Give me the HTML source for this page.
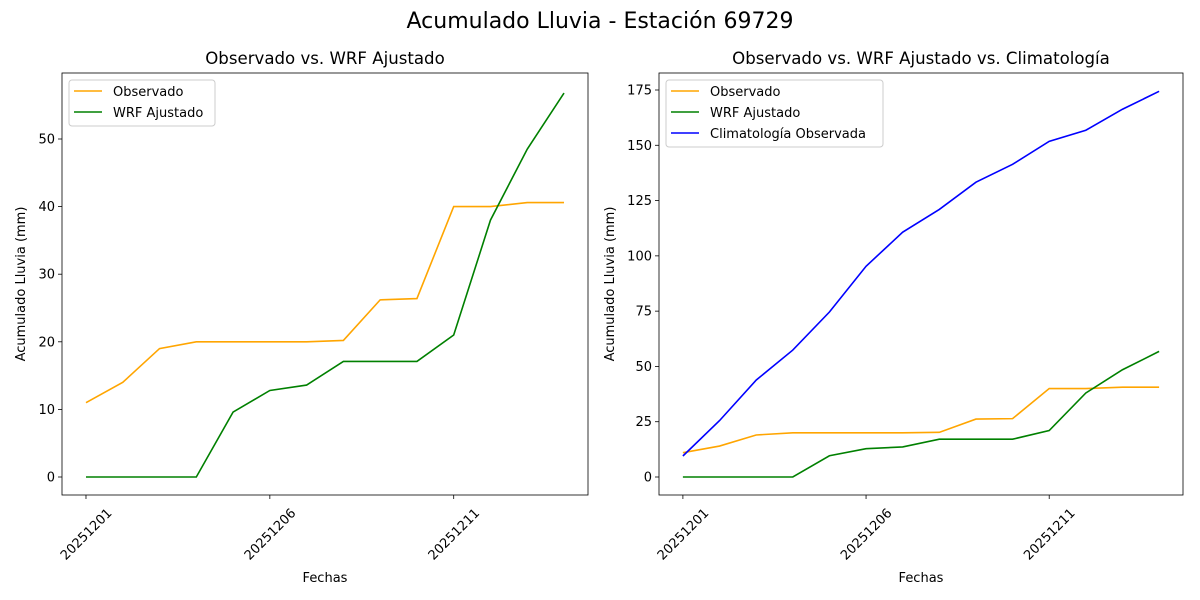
<!DOCTYPE html>
<html><head><meta charset="utf-8"><style>
body{margin:0;background:#fff;}
svg{display:block;font-family:"DejaVu Sans","Liberation Sans",sans-serif;}
</style></head><body>
<svg id="fig" width="1200" height="600" viewBox="0 0 1200 600">
<rect width="1200" height="600" fill="#fff"/>
<text x="600" y="28" font-size="22" text-anchor="middle">Acumulado Lluvia - Estación 69729</text>
</svg>
<script>
const dates = ["20251201","20251202","20251203","20251204","20251205","20251206","20251207","20251208","20251209","20251210","20251211","20251212","20251213","20251214"];
const observado = [11,14,19,20,20,20,20,20.2,26.2,26.4,40,40,40.6,40.6];
const wrfAjustado = [0,0,0,0,9.6,12.8,13.6,17.1,17.1,17.1,21,38,48.5,56.8];
const climatologia = [9.5,25.5,43.8,57.4,74.6,95.3,110.7,121,133.3,141.4,151.8,156.8,166.3,174.4];
const leftTicks = [0,10,20,30,40,50];
const rightTicks = [0,25,50,75,100,125,150,175];
const xTickIdx = [0,5,10];

const NS="http://www.w3.org/2000/svg";
const svg=document.getElementById('fig');
function mk(tag,attrs,parent){const e=document.createElementNS(NS,tag);for(const k in attrs)e.setAttribute(k,attrs[k]);(parent||svg).appendChild(e);return e;}

function panel(cfg){
  const g=mk('g',{});
  
  
  const {x0,x1,y0,y1}=cfg;
  const n=dates.length;
  const pad=(x1-x0)*0.0456;
  const xs=i=>x0+pad+i*((x1-x0-2*pad)/(n-1));
  const ys=v=>cfg.py0+(v-0)*(cfg.py1-cfg.py0)/(cfg.v1-0);
  cfg.ticks.forEach(t=>{
    const y=ys(t);
    const l=mk('line',{x1:x0-4,x2:x0,y1:y,y2:y,stroke:'#000','stroke-width':0.8},g);
    
    
    const tx=mk('text',{x:x0-7,y:y+4.5,'font-size':13,'text-anchor':'end'},g);
    tx.textContent=t;
    
    
  });
  xTickIdx.forEach(i=>{
    const x=xs(i);
    const l=mk('line',{x1:x,x2:x,y1:y1,y2:y1+4,stroke:'#000','stroke-width':0.8},g);
    
    
    const cx=x, cy=y1+39;
    const tx=mk('text',{x:cx,y:cy+4.5,'font-size':13,'text-anchor':'middle',transform:`rotate(-45 ${cx} ${cy})`},g);
    tx.textContent=dates[i];
    
    
  });
  cfg.series.forEach(s=>{
    const p=mk('polyline',{points:s.data.map((v,i)=>xs(i)+','+ys(v)).join(' '),fill:'none',stroke:s.color,'stroke-width':1.6},g);
    
    
  });
  const r=mk('rect',{x:x0,y:y0,width:x1-x0,height:y1-y0,fill:'none',stroke:'#000','stroke-width':0.8},g);
  
  
  const t=mk('text',{x:(x0+x1)/2,y:y0-9,'font-size':16.6,'text-anchor':'middle'},g);
  t.textContent=cfg.title;
  
  
  const xl=mk('text',{x:(x0+x1)/2,y:582,'font-size':13,'text-anchor':'middle'},g);
  xl.textContent='Fechas';
  
  
  const ylx=cfg.ylx, yly=(y0+y1)/2;
  const yl=mk('text',{x:ylx,y:yly,'font-size':13,'text-anchor':'middle',transform:`rotate(-90 ${ylx} ${yly})`},g);
  yl.textContent='Acumulado Lluvia (mm)';
  
  
  const lg=mk('g',{},g);
  
  
  mk('rect',{x:x0+7,y:y0+7,width:cfg.legW,height:cfg.series.length*21+4,rx:3,fill:'#fff',stroke:'#ccc','stroke-width':1},lg);
  cfg.series.forEach((s,k)=>{
    const yy=y0+18+k*21;
    const ln=mk('line',{x1:x0+12,x2:x0+40,y1:yy,y2:yy,stroke:s.color,'stroke-width':1.6},lg);
    
    
    const tx=mk('text',{x:x0+51,y:yy+5,'font-size':13},lg);
    tx.textContent=s.label;
    
    
  });
}
panel({name:'left-chart',x0:62,x1:588,y0:73,y1:495,py0:477,py1:139,v1:50,ticks:leftTicks,ylx:25,legW:146,
  title:'Observado vs. WRF Ajustado',
  series:[{id:'line-observado',label:'Observado',color:'orange',data:observado},
          {id:'line-wrf',label:'WRF Ajustado',color:'green',data:wrfAjustado}]});
panel({name:'right-chart',x0:659,x1:1183,y0:73,y1:495,py0:477,py1:90,v1:175,ticks:rightTicks,ylx:614,legW:217,
  title:'Observado vs. WRF Ajustado vs. Climatología',
  series:[{id:'line-observado',label:'Observado',color:'orange',data:observado},
          {id:'line-wrf',label:'WRF Ajustado',color:'green',data:wrfAjustado},
          {id:'line-climatologia',label:'Climatología Observada',color:'blue',data:climatologia}]});
</script>
</body></html>
